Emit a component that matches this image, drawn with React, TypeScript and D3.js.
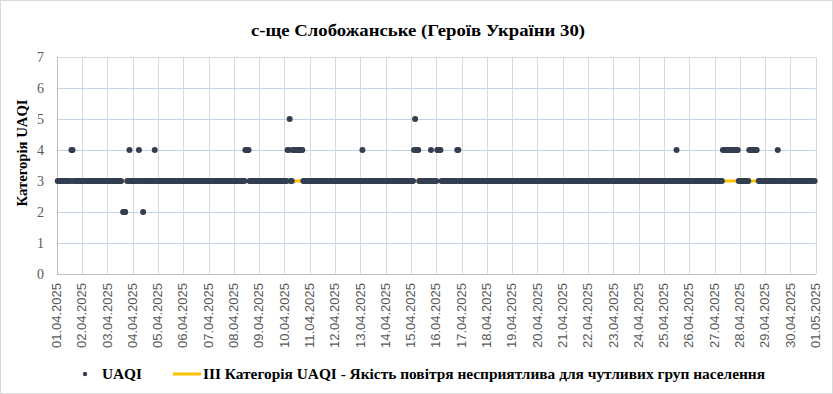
import * as React from "react";
import * as d3 from "d3";

const chartTitle = "с-ще Слобожанське (Героїв України 30)";
const yAxisTitle = "Категорія UAQI";
const pointsLabel = "UAQI";
const thresholdLabel = "III Категорія UAQI - Якість повітря несприятлива для чутливих груп населення";

// hourly readings, hours counted from 01.04.2025 00:00
const firstHour = 1;
const lastHour = 719;
const usualCategory = 3;
const thresholdCategory = 3;

// hours where the category was not 3
const otherHours = [
  14, 15, 63, 64, 65, 69, 78, 82, 93,
  179, 180, 181, 182,
  219, 220, 221, 224, 225, 226, 227, 228, 229, 230, 231, 232, 233,
  290, 339, 340, 341, 342, 343, 355, 361, 362, 363, 364, 380, 381,
  588,
  632, 633, 634, 635, 636, 637, 638, 639, 640, 641, 642, 643, 644, 645, 646,
  657, 658, 659, 660, 661, 662, 663, 664, 684,
];
const otherValues = [
  4, 4, 2, 2, 2, 4, 4, 2, 4,
  4, 4, 4, 4,
  4, 4, 5, 4, 4, 4, 4, 4, 4, 4, 4, 4, 4,
  4, 4, 5, 4, 4, 4, 4, 4, 4, 4, 4, 4, 4,
  4,
  4, 4, 4, 4, 4, 4, 4, 4, 4, 4, 4, 4, 4, 4, 4,
  4, 4, 4, 4, 4, 4, 4, 4, 4,
];
// hours without a reading
const missingHours = [62, 66, 665];

const yTicks = [0, 1, 2, 3, 4, 5, 6, 7];

const W = 833;
const H = 394;
const serif = '"Liberation Serif", "Times New Roman", "DejaVu Serif", serif';

interface Reading {
  date: Date;
  value: number;
}

const App: React.FunctionComponent = () => {
  const svgRef = React.useRef<SVGSVGElement>(null);

  React.useEffect(() => {
    const svgElement = svgRef.current;
    if (!svgElement) return;
    while (svgElement.firstChild) svgElement.removeChild(svgElement.firstChild);

    const svg = d3.select(svgElement);
    const start = new Date(Date.UTC(2025, 3, 1));
    const end = new Date(Date.UTC(2025, 4, 1));

    const readings: Reading[] = [];
    for (let h = firstHour; h <= lastHour; h++) {
      if (missingHours.includes(h)) continue;
      const idx = otherHours.indexOf(h);
      readings.push({
        date: d3.utcHour.offset(start, h),
        value: idx >= 0 ? otherValues[idx] : usualCategory,
      });
    }

    const left = 56.7;
    const right = 815.7;
    const top = 57;
    const bottom = 274;

    const x = d3.scaleUtc().domain([start, end]).range([left, right]);
    const y = d3.scaleLinear().domain([0, 7]).range([bottom, top]);

    // outer frame
    svg.append("rect")
      .attr("x", 0.5).attr("y", 0.5)
      .attr("width", W - 1).attr("height", H - 1)
      .attr("fill", "#fff")
      .attr("stroke", "#d9d9d9");

    // title
    svg.append("text")
      .attr("x", 418).attr("y", 36)
      .attr("text-anchor", "middle")
      .style("font-family", serif)
      .attr("font-weight", "bold")
      .attr("font-size", 17)
      .attr("textLength", 334)
      .attr("lengthAdjust", "spacingAndGlyphs")
      .attr("fill", "#000")
      .text(chartTitle);

    // grid
    const days = d3.utcDay.range(start, d3.utcDay.offset(end, 1));
    svg.append("g").selectAll("line")
      .data(days.slice(1))
      .enter().append("line")
      .attr("x1", d => Math.round(x(d)) + 0.5).attr("x2", d => Math.round(x(d)) + 0.5)
      .attr("y1", top).attr("y2", bottom)
      .attr("stroke", "#d9d9d9");

    svg.append("g").selectAll("line")
      .data(yTicks.slice(1))
      .enter().append("line")
      .attr("x1", left).attr("x2", right)
      .attr("y1", d => Math.round(y(d)) + 0.5).attr("y2", d => Math.round(y(d)) + 0.5)
      .attr("stroke", d => (d === 7 ? "#d9d9d9" : "#c5d3ea"));

    // axis lines
    svg.append("line")
      .attr("x1", left).attr("x2", right)
      .attr("y1", Math.round(bottom) + 0.5).attr("y2", Math.round(bottom) + 0.5)
      .attr("stroke", "#bfbfbf");
    svg.append("line")
      .attr("x1", Math.round(left) + 0.5).attr("x2", Math.round(left) + 0.5)
      .attr("y1", top).attr("y2", bottom)
      .attr("stroke", "#bfbfbf");

    // y ticks
    svg.append("g").selectAll("text")
      .data(yTicks)
      .enter().append("text")
      .attr("x", 44).attr("y", d => y(d))
      .attr("dy", "0.35em")
      .attr("text-anchor", "end")
      .style("font-family", serif)
      .attr("font-size", 14)
      .attr("fill", "#595959")
      .text(d => String(d));

    // x ticks
    const fmt = d3.utcFormat("%d.%m.%Y");
    svg.append("g").selectAll("text")
      .data(days)
      .enter().append("text")
      .attr("transform", d => `translate(${x(d)}, 283) rotate(-90)`)
      .attr("dy", "0.35em")
      .attr("text-anchor", "end")
      .style("font-family", '"Liberation Sans", Arial, sans-serif')
      .attr("font-size", 12)
      .attr("textLength", 65)
      .attr("lengthAdjust", "spacingAndGlyphs")
      .attr("fill", "#595959")
      .text(d => fmt(d));

    // y axis title
    svg.append("text")
      .attr("transform", "translate(22, 153) rotate(-90)")
      .attr("dy", "0.35em")
      .attr("text-anchor", "middle")
      .style("font-family", serif)
      .attr("font-weight", "bold")
      .attr("font-size", 14)
      .attr("textLength", 107)
      .attr("lengthAdjust", "spacingAndGlyphs")
      .attr("fill", "#000")
      .text(yAxisTitle);

    // threshold line (category III)
    const line = d3.line<Date>()
      .x(d => x(d))
      .y(() => y(thresholdCategory));
    svg.append("path")
      .attr("d", line([d3.utcHour.offset(start, firstHour), d3.utcHour.offset(start, lastHour)]))
      .attr("fill", "none")
      .attr("stroke", "#ffc000")
      .attr("stroke-width", 3);

    // points
    svg.append("g")
      .attr("fill", "#333f50")
      .selectAll("circle")
      .data(readings)
      .enter().append("circle")
      .attr("cx", d => x(d.date))
      .attr("cy", d => y(d.value))
      .attr("r", 3);

    // legend
    const legendY = 378.5;
    svg.append("circle")
      .attr("cx", 85).attr("cy", legendY - 4.5)
      .attr("r", 2.2)
      .attr("fill", "#333f50");
    svg.append("text")
      .attr("x", 102).attr("y", legendY)
      .style("font-family", serif)
      .attr("font-weight", "bold")
      .attr("font-size", 15)
      .attr("textLength", 40)
      .attr("lengthAdjust", "spacingAndGlyphs")
      .text(pointsLabel);
    svg.append("line")
      .attr("x1", 173).attr("x2", 201)
      .attr("y1", legendY - 4.5).attr("y2", legendY - 4.5)
      .attr("stroke", "#ffc000")
      .attr("stroke-width", 3);
    svg.append("text")
      .attr("x", 203).attr("y", legendY)
      .style("font-family", serif)
      .attr("font-weight", "bold")
      .attr("font-size", 15)
      .attr("textLength", 562)
      .attr("lengthAdjust", "spacingAndGlyphs")
      .text(thresholdLabel);

    return () => {
      while (svgElement.firstChild) svgElement.removeChild(svgElement.firstChild);
    };
  }, []);

  return (
    <svg
      ref={svgRef}
      width={W}
      height={H}
      style={{ position: "absolute", left: 0, top: 0, display: "block" }}
    />
  );
};

export default App;
